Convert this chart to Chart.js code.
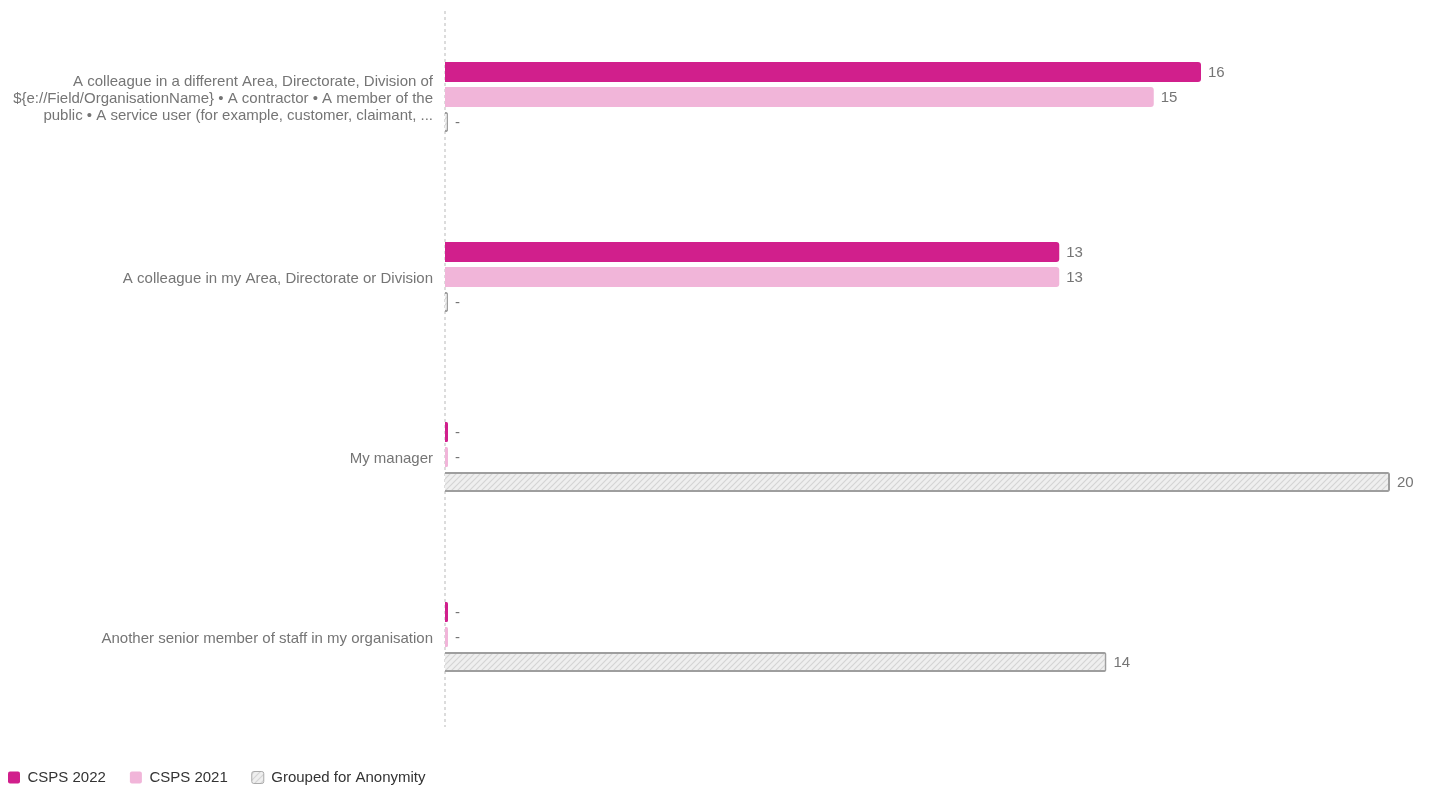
<!DOCTYPE html>
<html>
<head>
<meta charset="utf-8">
<script src="https://cdn.jsdelivr.net/npm/chart.js@4/dist/chart.umd.min.js"></script>
<style>
  html, body { margin: 0; padding: 0; background: #fff; }
  #wrap { width: 1430px; height: 788px; position: relative; }
</style>
</head>
<body>
<div id="wrap"><canvas id="mychart"></canvas></div>
<script>
// categories (each one split into its display lines)
var categoryLabels = [
    ['A colleague in a different Area, Directorate, Division of',
     '${e://Field/OrganisationName} \u2022 A contractor \u2022 A member of the',
     'public \u2022 A service user (for example, customer, claimant, ...'],
    'A colleague in my Area, Directorate or Division',
    'My manager',
    'Another senior member of staff in my organisation'
];
// 0 means no figure shown ("-")
var csps2022 = [16, 13, 0, 0];
var csps2021 = [15, 13, 0, 0];
var groupedForAnonymity = [0, 0, 20, 14];
var seriesNames = ['CSPS 2022', 'CSPS 2021', 'Grouped for Anonymity'];

var fontFamily = '"Liberation Sans", Arial, sans-serif';

//hatched fill for the anonymity series
function makeHatch() {
    var c = document.createElement('canvas');
    c.width = 6; c.height = 6;
    var x = c.getContext('2d');
    x.fillStyle = '#efefef';
    x.fillRect(0, 0, 6, 6);
    x.strokeStyle = '#d4d4d4';
    x.lineWidth = 1.2;
    x.beginPath();
    x.moveTo(0, 6); x.lineTo(6, 0);
    x.moveTo(-3, 3); x.lineTo(3, -3);
    x.moveTo(3, 9); x.lineTo(9, 3);
    x.stroke();
    return x.createPattern(c, 'repeat');
}
var hatch = makeHatch();

// dotted zero line
var zeroLine = {
    id: 'zeroLine',
    beforeDatasetsDraw: function(chart) {
        var ctx = chart.ctx;
        var x = Math.round(chart.scales.x.getPixelForValue(0));
        ctx.save();
        ctx.strokeStyle = '#dcdcdc';
        ctx.lineWidth = 2;
        ctx.setLineDash([3, 3]);
        ctx.beginPath();
        ctx.moveTo(x, chart.chartArea.top + 4);
        ctx.lineTo(x, chart.chartArea.bottom);
        ctx.stroke();
        ctx.restore();
    }
};

// draws the value (or "-") just past the end of each bar
var valueLabels = {
    id: 'valueLabels',
    afterDatasetsDraw: function(chart) {
        var ctx = chart.ctx;
        ctx.save();
        ctx.font = '15px ' + fontFamily;
        ctx.fillStyle = '#757575';
        ctx.textBaseline = 'middle';
        ctx.textAlign = 'left';
        chart.data.datasets.forEach(function(ds, i) {
            var meta = chart.getDatasetMeta(i);
            meta.data.forEach(function(bar, j) {
                var v = ds.data[j];
                var txt = v ? String(v) : '-';
                ctx.fillText(txt, bar.x + 7, bar.y + 1);
            });
        });
        ctx.restore();
    }
};

var chartdata = {
    labels: categoryLabels,
    datasets: [
        {
            label: seriesNames[0],
            data: csps2022,
            backgroundColor: '#d11f8c',
            borderColor: '#d11f8c',
            borderWidth: 0,
            borderRadius: 3
        },
        {
            label: seriesNames[1],
            data: csps2021,
            backgroundColor: '#f1b5d9',
            borderColor: '#f1b5d9',
            borderWidth: 0,
            borderRadius: 3
        },
        {
            label: seriesNames[2],
            data: groupedForAnonymity,
            backgroundColor: hatch,
            borderColor: '#9e9e9e',
            borderWidth: 2,
            borderRadius: 2
        }
    ]
};

var ctx = document.getElementById('mychart');
var barChart = new Chart(ctx, {
    type: 'bar',
    data: chartdata,
    plugins: [zeroLine, valueLabels],
    options: {
        indexAxis: 'y',
        responsive: true,
        maintainAspectRatio: false,
        animation: false,
        categoryPercentage: 0.4167,
        barPercentage: 0.8,
        minBarLength: 3,
        layout: { padding: { top: 7, right: 40, left: -16, bottom: -7 } },
        scales: {
            x: {
                min: 0,
                max: 20,
                afterFit: function(axis) { axis.height = 19; },
                ticks: { display: false },
                grid: { display: false, drawTicks: false },
                border: { display: false }
            },
            y: {
                afterFit: function(axis) {
                    axis.width = 461;
                    axis.paddingTop = 0;
                    axis.paddingBottom = 0;
                },
                grid: { display: false },
                border: { display: false },
                ticks: {
                    color: '#757575',
                    padding: 4,
                    labelOffset: 2,
                    font: { family: fontFamily, size: 15, lineHeight: 1.15 }
                }
            }
        },
        plugins: {
            tooltip: { enabled: false },
            legend: {
                position: 'bottom',
                align: 'start',
                labels: {
                    color: '#333',
                    boxWidth: 12,
                    boxHeight: 12,
                    padding: 24,
                    useBorderRadius: true,
                    borderRadius: 2,
                    font: { family: fontFamily, size: 15 },
                    generateLabels: function(chart) {
                        return chart.data.datasets.map(function(ds, i) {
                            return {
                                text: ds.label,
                                fillStyle: ds.backgroundColor,
                                strokeStyle: i == 2 ? '#aaa' : ds.backgroundColor,
                                lineWidth: i == 2 ? 1 : 0,
                                borderRadius: 2,
                                fontColor: '#333',
                                datasetIndex: i
                            };
                        });
                    }
                }
            }
        }
    }
});
</script>
</body>
</html>
